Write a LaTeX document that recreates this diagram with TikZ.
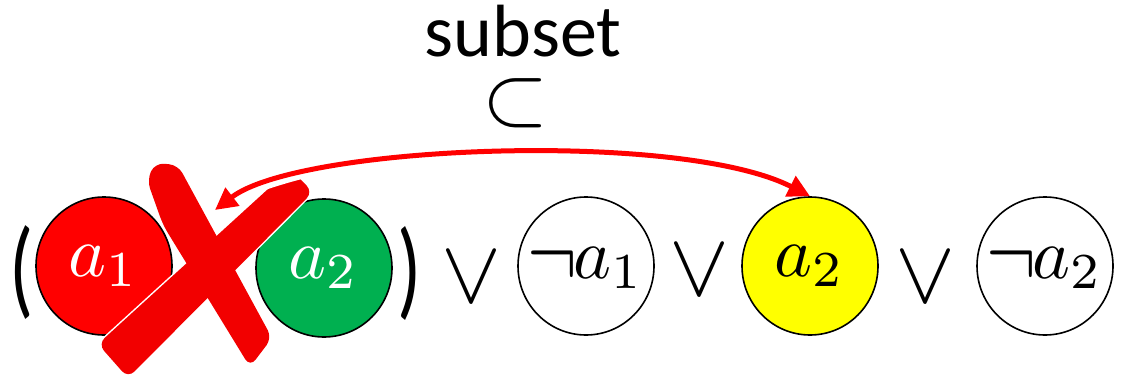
\documentclass[tikz,border=0pt]{standalone}
\usepackage{graphicx}
\usepackage{fontspec}
\setmainfont{Carlito}
\usetikzlibrary{arrows.meta,shapes.geometric}
\definecolor{litred}{HTML}{FF0000}
\definecolor{litgreen}{HTML}{00B050}
\definecolor{lityellow}{HTML}{FFFF00}
\definecolor{xred}{HTML}{F20000}
\newcommand{\litlabel}[1]{\scalebox{7.2}{$#1$}}
\newcommand{\ngt}{\raisebox{-8pt}{\scalebox{7.5}[10]{$\neg$}}\hspace{-4pt}}
\newcommand{\tallparen}[1]{\scalebox{1}[1.35]{\fontsize{80}{80}\selectfont #1}}
\begin{document}
\begin{tikzpicture}[x=1pt,y=-1pt,
  lit/.style={ellipse, draw=black, line width=1.6pt, minimum width=136pt, minimum height=138pt, inner sep=0pt},
  sym/.style={inner sep=0pt},
  xstroke/.style={fill=xred, rounded corners=9pt},
  link/.style={draw=litred, line width=5pt, {Triangle[length=22pt,width=22pt]}-{Triangle[length=22pt,width=22pt]}}]
\useasboundingbox (0,0) rectangle (1124,382);
% title
\node[inner sep=0pt, anchor=base, text depth=0pt, font=\fontsize{74}{74}\selectfont] (title) at (523,57) {subset};
\node[inner sep=0pt] (sub) at (516,103) {\scalebox{8.5}{$\subset$}};
% literals
\node[lit, fill=litred, label={[inner sep=0pt, text=white]center:\litlabel{a_1}}] (a1) at (104,266) {};
\node[lit, fill=litgreen, label={[inner sep=0pt, text=white]center:\litlabel{a_2}}] (a2) at (324,268) {};
\node[lit, fill=white, label={[inner sep=0pt]center:\ngt\litlabel{a_1}}] (na1) at (586,266) {};
\node[lit, fill=lityellow, label={[inner sep=0pt]center:\litlabel{a_2}}] (y2) at (810,266) {};
\node[lit, fill=white, label={[inner sep=0pt]center:\ngt\litlabel{a_2}}] (na2) at (1045,266) {};
% brackets and or
\node[sym] (lp) at (22,273) {\tallparen{(}};
\node[sym] (rp) at (410,273) {\tallparen{)}};
\node[sym] (or1) at (471,277) {\scalebox{9}{$\vee$}};
\node[sym] (or2) at (699,270) {\scalebox{9}{$\vee$}};
\node[sym] (or3) at (925,277) {\scalebox{9}{$\vee$}};
% cross
\draw[white, line width=3pt, rounded corners=9pt] (98,344) -- (128,378) -- (313,192) -- (290,169) -- cycle;
\draw[white, line width=3pt, rounded corners=9pt] (147,180) -- (155,163) -- (178,165) -- (272,338) -- (250,367) -- (163,225) -- cycle;
\path[xstroke] (98,344) -- (128,378) -- (313,192) -- (290,169) -- cycle;
\path[xstroke] (147,180) -- (155,163) -- (178,165) -- (272,338) -- (250,367) -- (163,225) -- cycle;
% arrow
\coordinate (xend) at (215,210);
\draw[white, line width=8pt, shorten >=200pt] (xend) .. controls (300,145) and (680,130) .. (y2.north);
\draw[link] (xend) .. controls (300,145) and (680,130) .. (y2.north);
\end{tikzpicture}
\end{document}
